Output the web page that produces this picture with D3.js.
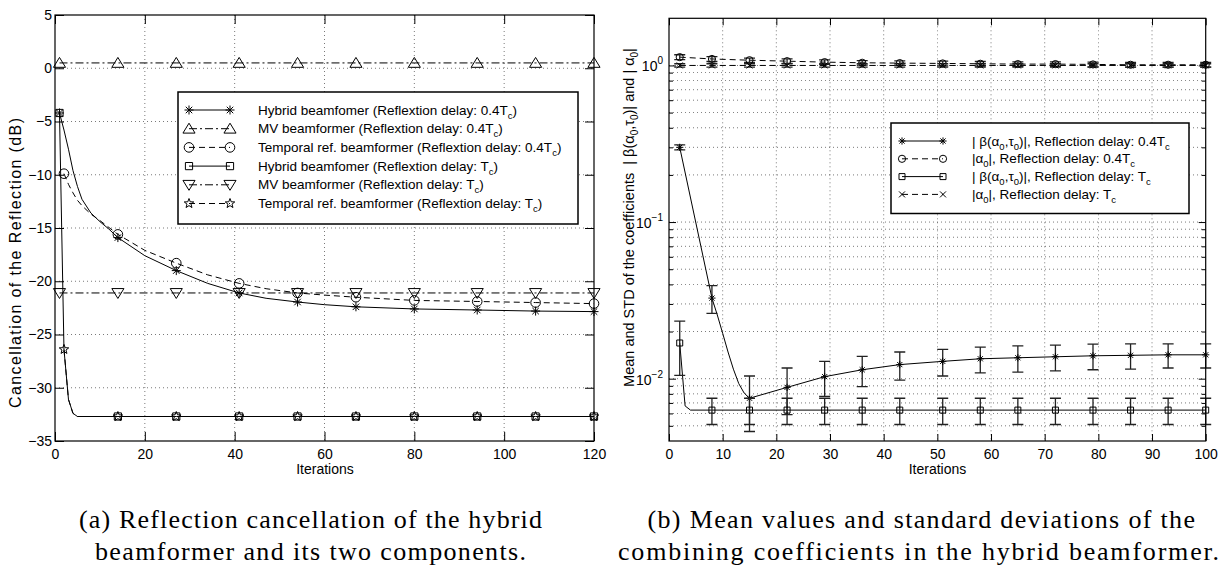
<!DOCTYPE html>
<html><head><meta charset="utf-8">
<script src="https://cdn.jsdelivr.net/npm/d3@7"></script>
<style>
body{margin:0;background:#fff;}
svg{display:block;}
text{font-family:"Liberation Sans",Arial,Helvetica,sans-serif;fill:#000;white-space:pre;}
text.cap{font-family:"Liberation Serif","Times New Roman",serif;}
</style></head><body>
<svg id="chart" width="1227" height="573"></svg>
<script>
// ---------------- DATA ----------------
// Left panel (a)
const leftXTicks = [0, 20, 40, 60, 80, 100, 120];
const leftYTicks = [5, 0, -5, -10, -15, -20, -25, -30, -35];
const markXLeft = [1, 14, 27, 41, 54, 67, 80, 94, 107, 120];
const markXLeftTemporal = [2, 14, 27, 41, 54, 67, 80, 94, 107, 120];

const hyb04X = [1, 2, 3, 4, 5, 6, 8, 10, 12, 14, 20, 27, 34, 41, 47, 54, 60, 67, 80, 94, 107, 120];
const hyb04Y = [-4.2, -5.8, -7.6, -9.6, -11.1, -12.3, -13.6, -14.4, -15.1, -15.9, -17.6, -19.0, -20.2, -21.1, -21.6, -21.95, -22.2, -22.4, -22.6, -22.7, -22.8, -22.85];
const mv04X = [1, 14, 27, 41, 54, 67, 80, 94, 107, 120];
const mv04Y = [0.5, 0.5, 0.5, 0.5, 0.5, 0.5, 0.5, 0.5, 0.5, 0.5];
const temp04X = [2, 3, 4, 5, 6, 8, 10, 14, 20, 27, 34, 41, 47, 54, 60, 67, 80, 94, 107, 120];
const temp04Y = [-9.9, -10.9, -11.7, -12.4, -12.9, -13.7, -14.3, -15.6, -17.1, -18.3, -19.4, -20.2, -20.7, -21.1, -21.3, -21.5, -21.8, -21.9, -22.0, -22.1];
const hybTcX = [1, 2, 3, 4, 5, 14, 27, 41, 54, 67, 80, 94, 107, 120];
const hybTcY = [-4.2, -26.4, -31.1, -32.4, -32.7, -32.7, -32.7, -32.7, -32.7, -32.7, -32.7, -32.7, -32.7, -32.7];
const mvTcX = [1, 14, 27, 41, 54, 67, 80, 94, 107, 120];
const mvTcY = [-21.1, -21.1, -21.1, -21.1, -21.1, -21.1, -21.1, -21.1, -21.1, -21.1];
const tempTcX = [2, 3, 4, 5, 14, 27, 41, 54, 67, 80, 94, 107, 120];
const tempTcY = [-26.4, -31.1, -32.4, -32.7, -32.7, -32.7, -32.7, -32.7, -32.7, -32.7, -32.7, -32.7, -32.7];

// Right panel (b)
const rightXTicks = [0, 10, 20, 30, 40, 50, 60, 70, 80, 90, 100];
const rightYTicks = [1, 0.1, 0.01];
const rightYExp = ["0", "\u22121", "\u22122"];
const markXRight = [2, 8, 15, 22, 29, 36, 43, 51, 58, 65, 72, 79, 86, 93, 100];

const beta04X = [2, 8, 9, 10, 11, 12, 13, 14, 15, 22, 29, 36, 43, 51, 58, 65, 72, 79, 86, 93, 100];
const beta04Y = [0.30, 0.0327, 0.0255, 0.0195, 0.0148, 0.0115, 0.0093, 0.0081, 0.0075, 0.0088, 0.0103, 0.0114, 0.0123, 0.0129, 0.0134, 0.0136, 0.0138, 0.0140, 0.0141, 0.0142, 0.0142];
const beta04Std = [0.011, 0.0066, 0.0029, 0.0029, 0.0026, 0.0025, 0.0025, 0.0025, 0.0025, 0.0026, 0.0026, 0.0026, 0.0026, 0.0025, 0.0025];
const alpha04X = [2, 8, 15, 22, 29, 36, 43, 51, 58, 65, 72, 79, 86, 93, 100];
const alpha04Y = [1.13, 1.10, 1.08, 1.065, 1.05, 1.04, 1.035, 1.03, 1.025, 1.02, 1.02, 1.015, 1.01, 1.01, 1.01];
const alpha04Std = [0.04, 0.04, 0.035, 0.035, 0.035, 0.035, 0.035, 0.035, 0.035, 0.035, 0.035, 0.035, 0.035, 0.035, 0.035];
const betaTcX = [2, 3, 4, 8, 15, 22, 29, 36, 43, 51, 58, 65, 72, 79, 86, 93, 100];
const betaTcY = [0.0169, 0.0067, 0.0063, 0.0063, 0.0063, 0.0063, 0.0063, 0.0063, 0.0063, 0.0063, 0.0063, 0.0063, 0.0063, 0.0063, 0.0063, 0.0063, 0.0063];
const betaTcStd = [0.0064, 0.0012, 0.0012, 0.0012, 0.0012, 0.0012, 0.0012, 0.0012, 0.0012, 0.0012, 0.0012, 0.0012, 0.0012, 0.0012, 0.0012];
const alphaTcX = [2, 8, 15, 22, 29, 36, 43, 51, 58, 65, 72, 79, 86, 93, 100];
const alphaTcY = [1.0, 1.0, 1.0, 1.0, 1.0, 1.0, 1.0, 1.0, 1.0, 1.0, 1.0, 1.0, 1.0, 1.0, 1.0];
const alphaTcStd = [0.025, 0.025, 0.025, 0.025, 0.025, 0.025, 0.025, 0.025, 0.025, 0.025, 0.025, 0.025, 0.025, 0.025, 0.025];

// ---------------- HELPERS ----------------
const svg = d3.select("#chart");
const DASH = {solid: null, dashed: "6,4", dashdot: "8,3,2,3"};

function symPath(type, r) {
  const k = 0.72 * r;
  switch (type) {
    case "asterisk": return `M${-r},0L${r},0M0,${-r}L0,${r}M${-k},${-k}L${k},${k}M${-k},${k}L${k},${-k}`;
    case "x": return `M${-r},${-r}L${r},${r}M${-r},${r}L${r},${-r}`;
    case "triUp": return `M0,${-r}L${r*1.1},${r*0.8}L${-r*1.1},${r*0.8}Z`;
    case "triDown": return `M0,${r}L${r*1.1},${-r*0.8}L${-r*1.1},${-r*0.8}Z`;
    case "square": return `M${-r},${-r}H${r}V${r}H${-r}Z`;
    case "circle": return `M${r},0A${r},${r} 0 1,1 ${-r},0A${r},${r} 0 1,1 ${r},0Z`;
    case "star": {
      let p = "";
      for (let i = 0; i < 10; i++) {
        const a = -Math.PI / 2 + i * Math.PI / 5, rr = i % 2 ? r * 0.42 : r;
        p += (i ? "L" : "M") + (rr * Math.cos(a)).toFixed(2) + "," + (rr * Math.sin(a)).toFixed(2);
      }
      return p + "Z";
    }
  }
}

function rich(sel, parts, subFs, shift) {
  parts.forEach(([t, sub], i) => {
    const prevSub = i > 0 && parts[i - 1][1];
    const ts = sel.append("tspan").text(t);
    if (sub) ts.attr("font-size", subFs).attr("dy", shift);
    else if (prevSub) ts.attr("dy", -shift);
  });
}

function gridStyle(s) {
  return s.attr("stroke", "#000").attr("stroke-width", 0.7).attr("stroke-dasharray", "1,3").attr("opacity", 0.75);
}

function styleAxis(g, fs) {
  g.select(".domain").remove();
  g.attr("font-family", '"Liberation Sans",Arial,sans-serif').attr("font-size", fs);
  g.selectAll(".tick line").attr("stroke", "#000").attr("stroke-width", 1);
}

// ---------------- LEFT PANEL ----------------
const xL = d3.scaleLinear().domain([0, 120]).range([55, 594]);
const yL = d3.scaleLinear().domain([-35, 5]).range([441, 15]);
const gL = svg.append("g");

gridStyle(gL.append("g").selectAll("line").data(leftXTicks.filter(v => v > 0 && v < 120)).join("line")
  .attr("x1", d => xL(d)).attr("x2", d => xL(d)).attr("y1", 15).attr("y2", 441));
gridStyle(gL.append("g").selectAll("line").data(leftYTicks.filter(v => v > -35 && v < 5)).join("line")
  .attr("y1", d => yL(d)).attr("y2", d => yL(d)).attr("x1", 55).attr("x2", 594));

gL.append("g").attr("transform", "translate(0,441)")
  .call(d3.axisBottom(xL).tickValues(leftXTicks).tickSize(-9).tickPadding(8)).call(g => styleAxis(g, 14));
gL.append("g").attr("transform", "translate(0,15)")
  .call(d3.axisTop(xL).tickValues(leftXTicks).tickSize(-9).tickFormat("")).call(g => styleAxis(g, 14));
gL.append("g").attr("transform", "translate(55,0)")
  .call(d3.axisLeft(yL).tickValues(leftYTicks).tickSize(-9).tickPadding(3)).call(g => styleAxis(g, 14));
gL.append("g").attr("transform", "translate(594,0)")
  .call(d3.axisRight(yL).tickValues(leftYTicks).tickSize(-9).tickFormat("")).call(g => styleAxis(g, 14));

const leftSeries = [
  {X: hyb04X, Y: hyb04Y, marks: markXLeft, sym: "asterisk", r: 4.5, dash: "solid",
   label: [["Hybrid beamfomer (Reflextion delay: 0.4T", 0], ["c", 1], [")", 0]]},
  {X: mv04X, Y: mv04Y, marks: markXLeft, sym: "triUp", r: 5.5, dash: "dashdot",
   label: [["MV beamformer (Reflextion delay: 0.4T", 0], ["c", 1], [")", 0]]},
  {X: temp04X, Y: temp04Y, marks: markXLeftTemporal, sym: "circle", r: 4.8, dash: "dashed",
   label: [["Temporal ref. beamformer (Reflextion delay: 0.4T", 0], ["c", 1], [")", 0]]},
  {X: hybTcX, Y: hybTcY, marks: markXLeft, sym: "square", r: 3.6, dash: "solid",
   label: [["Hybrid beamfomer (Reflextion delay: T", 0], ["c", 1], [")", 0]]},
  {X: mvTcX, Y: mvTcY, marks: markXLeft, sym: "triDown", r: 5.5, dash: "dashdot",
   label: [["MV beamformer (Reflextion delay: T", 0], ["c", 1], [")", 0]]},
  {X: tempTcX, Y: tempTcY, marks: markXLeftTemporal, sym: "star", r: 5, dash: "dashed",
   label: [["Temporal ref. beamformer (Reflextion delay: T", 0], ["c", 1], [")", 0]]},
];

const lineL = d3.line().x(d => xL(d[0])).y(d => yL(d[1]));
leftSeries.forEach(s => {
  const pts = s.X.map((x, i) => [x, s.Y[i]]);
  gL.append("path").datum(pts).attr("d", lineL).attr("fill", "none").attr("stroke", "#000")
    .attr("stroke-width", 1).attr("stroke-dasharray", DASH[s.dash]);
});
leftSeries.forEach(s => {
  const pts = s.marks.map(m => [m, s.Y[s.X.indexOf(m)]]);
  gL.append("g").selectAll("path").data(pts).join("path")
    .attr("transform", d => `translate(${xL(d[0])},${yL(d[1])})`)
    .attr("d", symPath(s.sym, s.r)).attr("fill", "none").attr("stroke", "#000").attr("stroke-width", 1);
});

gL.append("rect").attr("x", 55).attr("y", 15).attr("width", 539).attr("height", 426)
  .attr("fill", "none").attr("stroke", "#000").attr("stroke-width", 1.2);

// Left legend
const legL = gL.append("g");
legL.append("rect").attr("x", 178).attr("y", 92).attr("width", 400).attr("height", 132)
  .attr("fill", "#fff").attr("stroke", "#000").attr("stroke-width", 1.5);
leftSeries.forEach((s, i) => {
  const yy = 110 + i * 18.7;
  legL.append("line").attr("x1", 189).attr("x2", 230).attr("y1", yy).attr("y2", yy)
    .attr("stroke", "#000").attr("stroke-width", 1).attr("stroke-dasharray", DASH[s.dash]);
  [189, 230].forEach(xx => legL.append("path").attr("transform", `translate(${xx},${yy})`)
    .attr("d", symPath(s.sym, s.r)).attr("fill", "none").attr("stroke", "#000"));
  const t = legL.append("text").attr("x", 258).attr("y", yy + 4.5).attr("font-size", 13.5);
  rich(t, s.label, 9.5, 4);
});

// Left axis labels
gL.append("text").attr("x", 325).attr("y", 474).attr("text-anchor", "middle").attr("font-size", 14).text("Iterations");
gL.append("text").attr("transform", "translate(21,263) rotate(-90)").attr("text-anchor", "middle")
  .attr("font-size", 16).attr("textLength", 290).attr("lengthAdjust", "spacing")
  .text("Cancellation of the Reflection (dB)");

// ---------------- RIGHT PANEL ----------------
const xR = d3.scaleLinear().domain([0, 100]).range([669, 1205.7]);
const yR = d3.scaleLog().domain([0.004, 2]).range([441, 18.3]);
const gR = svg.append("g");

const minorR = [];
[0.001, 0.01, 0.1, 1].forEach(dec => { for (let k = 2; k <= 9; k++) { const v = dec * k; if (v > 0.004 && v < 2) minorR.push(v); } });

gridStyle(gR.append("g").selectAll("line").data(rightXTicks.filter(v => v > 0 && v < 100)).join("line")
  .attr("x1", d => xR(d)).attr("x2", d => xR(d)).attr("y1", 18.3).attr("y2", 441));
gridStyle(gR.append("g").selectAll("line").data(rightYTicks.concat(minorR)).join("line")
  .attr("y1", d => yR(d)).attr("y2", d => yR(d)).attr("x1", 669).attr("x2", 1205.7));

gR.append("g").attr("transform", "translate(0,441)")
  .call(d3.axisBottom(xR).tickValues(rightXTicks).tickSize(-7).tickPadding(8)).call(g => styleAxis(g, 14));
gR.append("g").attr("transform", "translate(0,18.3)")
  .call(d3.axisTop(xR).tickValues(rightXTicks).tickSize(-7).tickFormat("")).call(g => styleAxis(g, 14));
gR.append("g").attr("transform", "translate(669,0)")
  .call(d3.axisLeft(yR).tickValues(rightYTicks).tickSize(-7).tickFormat("")).call(g => styleAxis(g, 14));
gR.append("g").attr("transform", "translate(1205.7,0)")
  .call(d3.axisRight(yR).tickValues(rightYTicks).tickSize(-7).tickFormat("")).call(g => styleAxis(g, 14));
gR.append("g").attr("transform", "translate(669,0)")
  .call(d3.axisLeft(yR).tickValues(minorR).tickSize(-4).tickFormat("")).call(g => styleAxis(g, 14));
gR.append("g").attr("transform", "translate(1205.7,0)")
  .call(d3.axisRight(yR).tickValues(minorR).tickSize(-4).tickFormat("")).call(g => styleAxis(g, 14));

// y tick labels with superscripts
rightYTicks.forEach((v, i) => {
  const t = gR.append("text").attr("x", 663).attr("y", yR(v) + 6).attr("text-anchor", "end").attr("font-size", 14);
  t.append("tspan").text("10");
  t.append("tspan").attr("font-size", 10).attr("dy", -7).text(rightYExp[i]);
});

const rightSeries = [
  {X: beta04X, Y: beta04Y, std: beta04Std, sym: "asterisk", r: 3.6, dash: "solid",
   label: [["| \u03b2(\u03b1", 0], ["0", 1], [",\u03c4", 0], ["0", 1], [")|, Reflection delay: 0.4T", 0], ["c", 1]]},
  {X: alpha04X, Y: alpha04Y, std: alpha04Std, sym: "circle", r: 3.6, dash: "dashed",
   label: [["|\u03b1", 0], ["0", 1], ["|, Reflection delay: 0.4T", 0], ["c", 1]]},
  {X: betaTcX, Y: betaTcY, std: betaTcStd, sym: "square", r: 3, dash: "solid",
   label: [["| \u03b2(\u03b1", 0], ["0", 1], [",\u03c4", 0], ["0", 1], [")|, Reflection delay: T", 0], ["c", 1]]},
  {X: alphaTcX, Y: alphaTcY, std: alphaTcStd, sym: "x", r: 3, dash: "dashed",
   label: [["|\u03b1", 0], ["0", 1], ["|, Reflection delay: T", 0], ["c", 1]]},
];

const lineR = d3.line().x(d => xR(d[0])).y(d => yR(d[1]));
rightSeries.forEach(s => {
  const pts = s.X.map((x, i) => [x, s.Y[i]]);
  gR.append("path").datum(pts).attr("d", lineR).attr("fill", "none").attr("stroke", "#000")
    .attr("stroke-width", 1).attr("stroke-dasharray", DASH[s.dash]);
});
rightSeries.forEach(s => {
  const pts = markXRight.map((m, i) => ({x: m, y: s.Y[s.X.indexOf(m)], sd: s.std[i]}));
  const eg = gR.append("g").attr("stroke", "#222").attr("stroke-width", 1.3).attr("fill", "none");
  pts.forEach(p => {
    const X = xR(p.x), y1 = yR(p.y + p.sd), y2 = yR(p.y - p.sd);
    eg.append("path").attr("d", `M${X},${y1}V${y2}M${X - 5.5},${y1}H${X + 5.5}M${X - 5.5},${y2}H${X + 5.5}`);
  });
  gR.append("g").selectAll("path").data(pts).join("path")
    .attr("transform", d => `translate(${xR(d.x)},${yR(d.y)})`)
    .attr("d", symPath(s.sym, s.r)).attr("fill", "none").attr("stroke", "#000").attr("stroke-width", 1);
});

gR.append("rect").attr("x", 669).attr("y", 18.3).attr("width", 536.7).attr("height", 422.7)
  .attr("fill", "none").attr("stroke", "#000").attr("stroke-width", 1.2);

// Right legend
const legR = gR.append("g");
legR.append("rect").attr("x", 891).attr("y", 123).attr("width", 298).attr("height", 90.5)
  .attr("fill", "#fff").attr("stroke", "#000").attr("stroke-width", 1.5);
rightSeries.forEach((s, i) => {
  const yy = 141 + i * 17.8;
  legR.append("line").attr("x1", 902).attr("x2", 943).attr("y1", yy).attr("y2", yy)
    .attr("stroke", "#000").attr("stroke-width", 1).attr("stroke-dasharray", DASH[s.dash]);
  [902, 943].forEach(xx => legR.append("path").attr("transform", `translate(${xx},${yy})`)
    .attr("d", symPath(s.sym, s.r)).attr("fill", "none").attr("stroke", "#000"));
  const t = legR.append("text").attr("x", 972).attr("y", yy + 4.5).attr("font-size", 13.5);
  rich(t, s.label, 9.5, 4);
});

// Right axis labels
gR.append("text").attr("x", 937.5).attr("y", 474).attr("text-anchor", "middle").attr("font-size", 14).text("Iterations");
const yl = gR.append("text").attr("transform", "translate(634,217.5) rotate(-90)").attr("text-anchor", "middle").attr("font-size", 14.5);
rich(yl, [["Mean and STD of the coefficients  | \u03b2(\u03b1", 0], ["0", 1], [",\u03c4", 0], ["0", 1], [")| and | \u03b1", 0], ["0", 1], ["|", 0]], 10, 4);

// ---------------- CAPTIONS ----------------
const captions = [
  {x: 79, w: 463, y: 528, t: "(a) Reflection cancellation of the hybrid"},
  {x: 95, w: 431, y: 560, t: "beamformer and its two components."},
  {x: 647.5, w: 547.5, y: 528, t: "(b) Mean values and standard deviations of the"},
  {x: 618, w: 601, y: 560, t: "combining coefficients in the hybrid beamformer."},
];
svg.append("g").selectAll("text").data(captions).join("text")
  .attr("class", "cap")
  .attr("x", d => d.x).attr("y", d => d.y).attr("font-size", 26)
  .attr("textLength", d => d.w).attr("lengthAdjust", "spacing")
  .text(d => d.t);
</script>
</body></html>
